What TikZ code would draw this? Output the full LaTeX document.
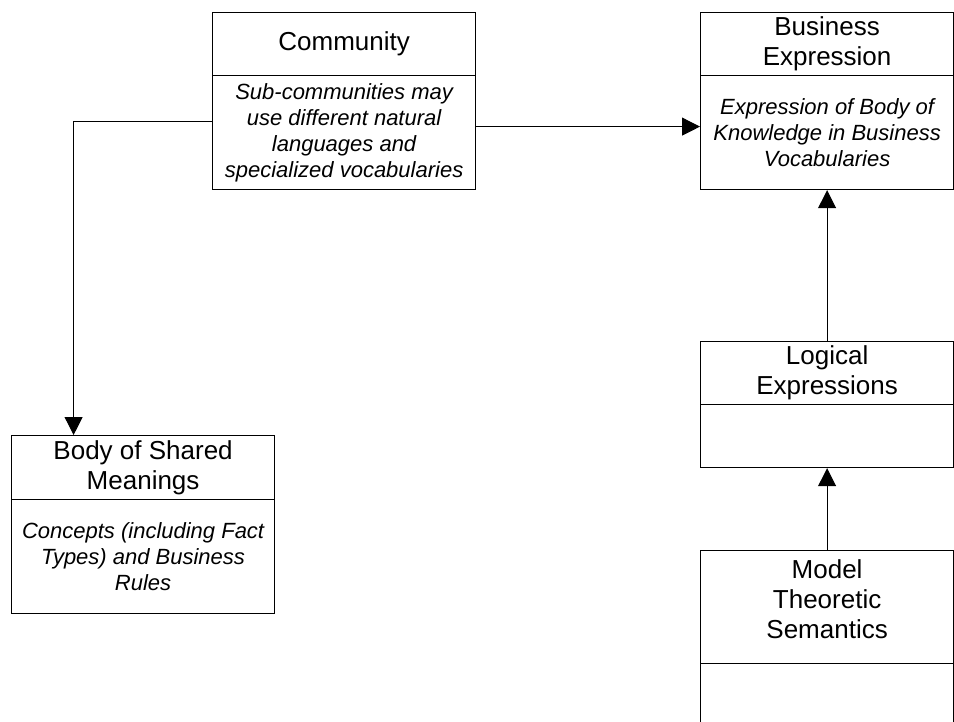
\documentclass[tikz,border=0pt]{standalone}
\usepackage{fontspec}
\setmainfont{Liberation Sans}
\usetikzlibrary{arrows.meta}

\tikzset{
  part/.style={draw, line width=1.2pt, rectangle, inner sep=0pt, anchor=north west},
  title/.style={align=center, inner sep=0pt, font=\fontsize{26}{30}\selectfont},
  note/.style={align=center, inner sep=0pt, font=\fontsize{22}{26}\selectfont\itshape},
  link/.style={line width=1pt, -{Triangle[length=18pt,width=18pt]}}
}

\begin{document}
\begin{tikzpicture}[x=1pt,y=1pt]
  \useasboundingbox (0,0) rectangle (954,-722);
  \clip (0,0) rectangle (954,-722);

  % Community
  \node[part, minimum width=263pt, minimum height=63pt]  (cmhead) at (212,-12) {};
  \node[part, minimum width=263pt, minimum height=114pt] (cmbody) at (212,-75) {};
  \node[title] at (cmhead) {Community};
  \node[note]  at (cmbody) {Sub-communities may\\use different natural\\languages and\\specialized vocabularies};

  % Business Expression
  \node[part, minimum width=253pt, minimum height=63pt]  (behead) at (700,-12) {};
  \node[part, minimum width=253pt, minimum height=114pt] (bebody) at (700,-75) {};
  \node[title] at (behead) {Business\\Expression};
  \node[note]  at (bebody) {Expression of Body of\\Knowledge in Business\\Vocabularies};

  % Logical Expressions
  \node[part, minimum width=253pt, minimum height=63pt] (lehead) at (700,-341) {};
  \node[part, minimum width=253pt, minimum height=63pt] (lebody) at (700,-404) {};
  \node[title] at (lehead) {Logical\\Expressions};

  % Model Theoretic Semantics
  \node[part, minimum width=253pt, minimum height=113pt] (mthead) at (700,-550) {};
  \node[part, minimum width=253pt, minimum height=80pt]  (mtbody) at (700,-663) {};
  \node[title] at ([yshift=8pt]mthead.center) {Model\\Theoretic\\Semantics};

  % Body of Shared Meanings
  \node[part, minimum width=263pt, minimum height=64pt]  (bshead) at (11,-435) {};
  \node[part, minimum width=263pt, minimum height=114pt] (bsbody) at (11,-499) {};
  \node[title] at (bshead) {Body of Shared\\Meanings};
  \node[note]  at (bsbody) {Concepts (including Fact\\Types) and Business\\Rules};

  % Connectors
  \draw[link] ([yshift=6pt]cmbody.east) -- ([yshift=6pt]bebody.west);
  \draw[link] ([yshift=11pt]cmbody.west) -| ([xshift=-69.5pt]bshead.north);
  \draw[link] (lehead.north) -- (bebody.south);
  \draw[link] (mthead.north) -- (lebody.south);
\end{tikzpicture}
\end{document}
